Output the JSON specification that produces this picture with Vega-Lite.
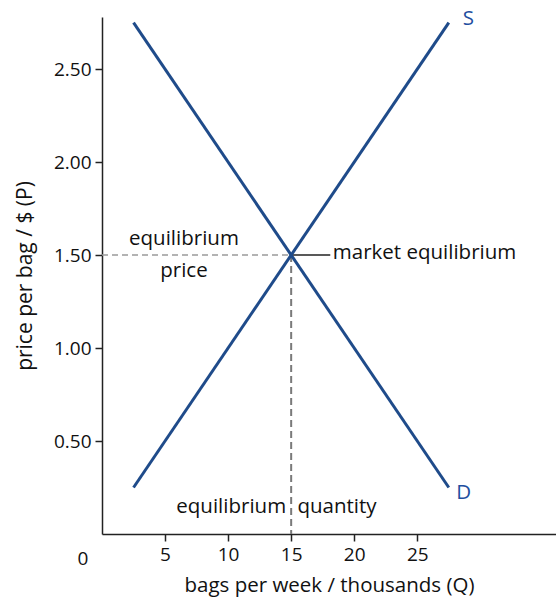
{
  "$schema": "https://vega.github.io/schema/vega-lite/v6.json",
  "autosize": {"type": "none"},
  "width": 454,
  "height": 517,
  "padding": {"left": 102, "top": 17, "right": 0, "bottom": 67},
  "background": "white",
  "config": {
    "view": {"stroke": null},
    "font": "Open Sans"
  },
  "datasets": {
    "curves": [
      {"curve": "D", "Q": 2.5, "P": 2.75},
      {"curve": "D", "Q": 27.5, "P": 0.25},
      {"curve": "S", "Q": 2.5, "P": 0.25},
      {"curve": "S", "Q": 27.5, "P": 2.75}
    ],
    "hdash": [
      {"Q": 0, "P": 1.5},
      {"Q": 15, "P": 1.5}
    ],
    "vdash": [
      {"Q": 15, "P": 1.5},
      {"Q": 15, "P": 0}
    ],
    "leader": [
      {"Q": 15, "P": 1.5},
      {"Q": 18.1, "P": 1.5}
    ],
    "centerlabels": [
      {"text": "equilibrium", "Q": 6.5, "P": 1.585},
      {"text": "price", "Q": 6.5, "P": 1.415}
    ],
    "leftlabels": [
      {"text": "market equilibrium", "Q": 18.3, "P": 1.51},
      {"text": "quantity", "Q": 15.5, "P": 0.145}
    ],
    "rightlabels": [
      {"text": "equilibrium", "Q": 14.6, "P": 0.145}
    ],
    "curvelabels": [
      {"text": "S", "Q": 28.6, "P": 2.77},
      {"text": "D", "Q": 28.1, "P": 0.22}
    ],
    "zero": [
      {"text": "0", "Q": 0, "P": 0}
    ]
  },
  "layer": [
    {
      "data": {"name": "hdash"},
      "mark": {"type": "line", "color": "#9a9a9a", "strokeWidth": 1.5, "strokeDash": [6, 4]},
      "encoding": {
        "x": {"field": "Q", "type": "quantitative", "scale": {"domain": [0, 36], "nice": false, "zero": false},
          "axis": {"values": [5, 10, 15, 20, 25], "grid": false, "domainColor": "#222", "tickColor": "#222", "domainWidth": 1.5, "tickWidth": 1.5, "tickSize": 7, "labelPadding": 4, "labelFont": "Open Sans", "labelFontSize": 19, "labelColor": "#111", "title": "bags per week / thousands (Q)", "titleFont": "Open Sans", "titleFontSize": 20.5, "titleFontWeight": "normal", "titleColor": "#111", "titlePadding": 11}},
        "y": {"field": "P", "type": "quantitative", "scale": {"domain": [0, 2.78], "nice": false, "zero": false},
          "axis": {"values": [0.5, 1, 1.5, 2, 2.5], "format": ".2f", "grid": false, "domainColor": "#222", "tickColor": "#222", "domainWidth": 1.5, "tickWidth": 1.5, "tickSize": 7, "labelPadding": 4, "labelFont": "Open Sans", "labelFontSize": 19, "labelColor": "#111", "title": "price per bag / $ (P)", "titleFont": "Open Sans", "titleFontSize": 21, "titleFontWeight": "normal", "titleColor": "#111", "titlePadding": 18}}
      }
    },
    {
      "data": {"name": "vdash"},
      "mark": {"type": "line", "color": "#7a7a7a", "strokeWidth": 2, "strokeDash": [7, 4]},
      "encoding": {
        "x": {"field": "Q", "type": "quantitative"},
        "y": {"field": "P", "type": "quantitative"}
      }
    },
    {
      "data": {"name": "leader"},
      "mark": {"type": "line", "color": "#222", "strokeWidth": 1.5},
      "encoding": {
        "x": {"field": "Q", "type": "quantitative"},
        "y": {"field": "P", "type": "quantitative"}
      }
    },
    {
      "data": {"name": "curves"},
      "mark": {"type": "line", "color": "#1f4b8a", "strokeWidth": 3},
      "encoding": {
        "x": {"field": "Q", "type": "quantitative"},
        "y": {"field": "P", "type": "quantitative"},
        "detail": {"field": "curve"}
      }
    },
    {
      "data": {"name": "centerlabels"},
      "mark": {"type": "text", "fontSize": 20.5, "color": "#111", "baseline": "middle", "align": "center", "font": "Open Sans"},
      "encoding": {
        "x": {"field": "Q", "type": "quantitative"},
        "y": {"field": "P", "type": "quantitative"},
        "text": {"field": "text"}
      }
    },
    {
      "data": {"name": "leftlabels"},
      "mark": {"type": "text", "fontSize": 20.5, "color": "#111", "baseline": "middle", "align": "left", "font": "Open Sans"},
      "encoding": {
        "x": {"field": "Q", "type": "quantitative"},
        "y": {"field": "P", "type": "quantitative"},
        "text": {"field": "text"}
      }
    },
    {
      "data": {"name": "rightlabels"},
      "mark": {"type": "text", "fontSize": 20.5, "color": "#111", "baseline": "middle", "align": "right", "font": "Open Sans"},
      "encoding": {
        "x": {"field": "Q", "type": "quantitative"},
        "y": {"field": "P", "type": "quantitative"},
        "text": {"field": "text"}
      }
    },
    {
      "data": {"name": "curvelabels"},
      "mark": {"type": "text", "fontSize": 20.5, "color": "#1f4fa0", "baseline": "middle", "align": "left", "font": "Open Sans"},
      "encoding": {
        "x": {"field": "Q", "type": "quantitative"},
        "y": {"field": "P", "type": "quantitative"},
        "text": {"field": "text"}
      }
    },
    {
      "data": {"name": "zero"},
      "mark": {"type": "text", "fontSize": 19, "color": "#111", "baseline": "middle", "align": "center", "dx": -19, "dy": 25, "font": "Open Sans"},
      "encoding": {
        "x": {"field": "Q", "type": "quantitative"},
        "y": {"field": "P", "type": "quantitative"},
        "text": {"field": "text"}
      }
    }
  ]
}
